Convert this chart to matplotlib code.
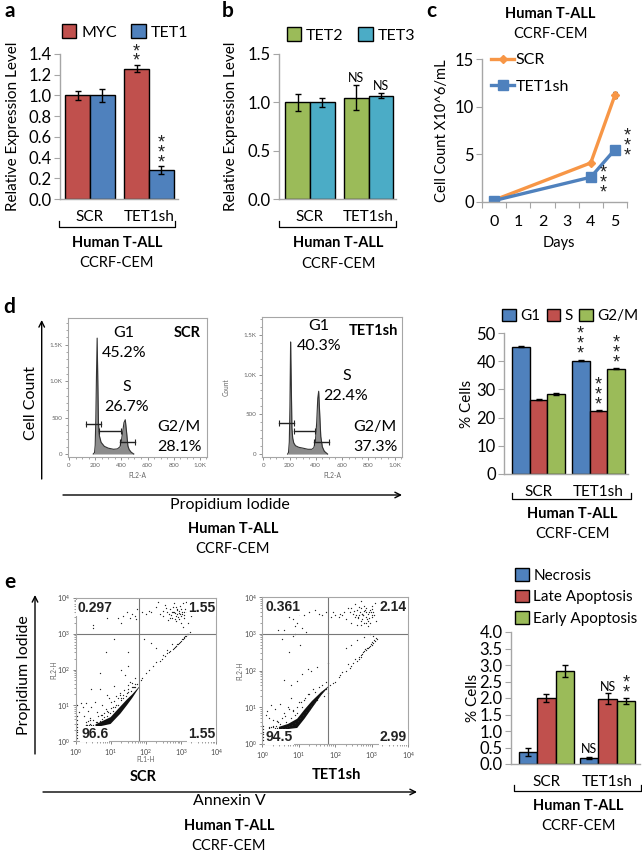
import matplotlib
matplotlib.use("Agg")
import matplotlib.pyplot as plt
import numpy as np
from matplotlib.patches import Patch
from matplotlib.lines import Line2D
from matplotlib.ticker import NullFormatter, LogLocator

plt.rcParams['font.family'] = ['Lato', 'DejaVu Sans']

RED = "#c0504d"
BLUE = "#4f81bd"
GREEN = "#9bbb59"
TEAL = "#4bacc6"
ORANGE = "#f79646"
GRAY = "#a6a6a6"
W, H = 642, 856

groups = ["SCR", "TET1sh"]

# a
myc = [1.0, 1.26]
myc_err = [0.045, 0.03]
tet1 = [1.0, 0.28]
tet1_err = [0.06, 0.035]
# b
tet2 = [1.0, 1.05]
tet2_err = [0.09, 0.13]
tet3 = [1.0, 1.07]
tet3_err = [0.05, 0.025]
# c
days = [0, 4, 5]
day_labels = ["0", "1", "2", "3", "4", "5"]
scr_count = [0.2, 4.1, 11.2]
scr_count_err = [0.05, 0.15, 0.3]
sh_count = [0.15, 2.6, 5.5]
sh_count_err = [0.05, 0.1, 0.15]
# d bars
g1 = [45.2, 40.2]
g1_err = [0.3, 0.2]
s_phase = [26.4, 22.4]
s_err = [0.3, 0.2]
g2m = [28.4, 37.4]
g2m_err = [0.3, 0.15]
# e bars
necrosis = [0.37, 0.18]
necrosis_err = [0.13, 0.04]
late = [2.0, 1.98]
late_err = [0.12, 0.17]
early = [2.83, 1.9]
early_err = [0.18, 0.09]

# cell cycle histograms
hist_scr_x = [185, 195, 200, 205, 210, 215, 220, 225, 232, 245, 270, 300, 340, 370, 390, 400, 410, 420, 430, 440, 450, 460, 475, 495]
hist_scr_y = [0, 20, 120, 500, 1100, 1590, 1000, 420, 250, 160, 105, 80, 65, 70, 100, 180, 300, 430, 470, 300, 110, 60, 25, 0]
hist_sh_x = [185, 192, 198, 203, 208, 213, 218, 224, 232, 245, 270, 300, 340, 370, 385, 397, 407, 415, 422, 430, 438, 450, 465, 490]
hist_sh_y = [0, 20, 150, 600, 1410, 900, 330, 200, 140, 105, 85, 75, 60, 60, 80, 160, 400, 700, 790, 500, 220, 90, 35, 0]

# annexin scatter, log10 of the channel values
band_scr_x = [0.55, 0.7, 0.98, 1.26, 1.45, 1.6, 1.8]
band_scr_lo = [0.43, 0.43, 0.49, 0.78, 1.02, 1.22, 1.52]
band_scr_hi = [0.48, 0.55, 0.68, 0.98, 1.18, 1.32, 1.54]
band_sh_x = [0.45, 0.7, 0.95, 1.15, 1.35, 1.6, 1.8]
band_sh_lo = [0.42, 0.42, 0.45, 0.7, 0.98, 1.33, 1.56]
band_sh_hi = [0.48, 0.56, 0.7, 0.95, 1.18, 1.42, 1.58]

pts_scr_x = [1.35, 1.45, 1.2, 1.55, 1.6, 1.7, 1.75, 1.72, 1.3, 0.5, 0.5, 0.9, 1.9, 2.0, 2.1, 2.15, 2.3, 2.4, 2.5, 2.5, 2.55, 2.6, 2.65, 2.7, 2.75, 2.8, 2.85, 2.85, 2.9, 2.95, 3.0, 3.0, 3.05, 3.1, 3.1, 2.95, 3.2, 3.05, 3.3, 3.2, 3.15, 2.8, 2.35,
             3.2, 3.25, 3.15, 3.1, 3.05, 3.0, 2.95, 2.9, 2.85, 2.8, 2.7, 2.6, 2.5, 2.4, 2.3, 2.2, 2.1, 2.0, 1.9, 1.85,
             1.95, 2.15, 2.3, 2.6, 2.75, 1.5, 1.1, 0.85, 1.5, 1.3, 1.4, 0.7, 0.45, 0.7, 1.1, 0.9, 1.25, 1.55, 1.65, 0.3, 0.2, 0.15, 0.35, 0.45, 0.55, 0.6, 0.75, 0.85, 0.1, 0.25, 0.4, 1.0, 1.2, 1.35, 1.5, 1.7, 0.95, 0.05, 0.05, 0.05,
             0.03, 0.03, 0.03, 0.03, 0.03, 0.03, 0.3, 0.4, 0.5, 0.75, 0.9, 1.05, 1.15, 1.3, 1.45, 1.6, 0.8, 1.0, 0.65, 0.28, 0.35, 0.42,
             2.72, 2.78, 2.83, 2.88, 2.92, 2.97, 3.02, 2.76, 2.82, 2.9, 2.98, 3.04, 2.68, 2.74, 2.86, 2.94, 3.08, 3.12, 2.62, 3.0, 3.16, 2.58,
             3.18, 3.12, 3.08, 3.02, 2.98, 2.92, 2.87, 2.83, 2.76, 2.66, 2.55, 2.45,
             1.75, 1.68, 1.62, 1.58, 1.5, 1.42, 1.36, 1.28, 1.2, 1.12, 1.05, 0.98, 0.9, 0.82, 0.76, 0.68, 0.62, 0.58, 1.7, 1.6, 1.48, 1.38, 1.25, 1.15, 1.08, 0.5, 0.45, 0.38, 0.32, 0.3, 0.92, 0.72]
pts_scr_y = [3.5, 3.6, 3.45, 3.45, 3.55, 3.5, 3.7, 3.4, 3.3, 3.25, 3.15, 3.45, 3.6, 3.55, 3.65, 3.6, 3.75, 3.55, 3.5, 3.65, 3.8, 3.6, 3.55, 3.7, 3.45, 3.6, 3.5, 3.75, 3.55, 3.65, 3.7, 3.5, 3.85, 3.6, 3.45, 3.4, 3.3, 3.2, 3.5, 3.75, 3.9, 3.85, 3.9,
             3.0, 3.05, 2.95, 2.9, 2.85, 2.8, 2.75, 2.7, 2.65, 2.6, 2.52, 2.45, 2.4, 2.25, 2.2, 2.1, 2.0, 1.9, 1.75, 1.7,
             2.85, 2.75, 2.6, 2.55, 2.7, 2.5, 2.85, 2.5, 2.1, 2.0, 1.85, 1.9, 1.45, 1.45, 1.55, 1.3, 1.35, 1.65, 1.5, 1.05, 0.95, 1.05, 0.85, 0.95, 1.1, 0.8, 1.0, 0.9, 0.8, 0.7, 0.65, 1.1, 1.2, 1.3, 1.45, 1.6, 1.2, 1.0, 0.7, 0.6,
             0.08, 0.16, 0.24, 0.32, 0.4, 0.48, 0.45, 0.47, 0.6, 0.72, 0.85, 0.95, 1.02, 1.2, 1.35, 1.5, 0.78, 0.92, 0.7, 0.44, 0.55, 0.6,
             3.52, 3.62, 3.58, 3.66, 3.48, 3.56, 3.62, 3.74, 3.42, 3.68, 3.78, 3.54, 3.44, 3.62, 3.36, 3.58, 3.52, 3.7, 3.38, 3.3, 3.62, 3.72,
             2.98, 2.93, 2.88, 2.84, 2.78, 2.72, 2.67, 2.63, 2.57, 2.48, 2.38, 2.3,
             1.6, 1.5, 1.5, 1.4, 1.38, 1.25, 1.2, 1.14, 1.02, 0.95, 0.85, 0.78, 0.7, 0.66, 0.62, 0.56, 0.53, 0.52, 1.75, 1.62, 1.58, 1.42, 1.3, 1.25, 1.12, 0.44, 0.44, 0.44, 0.44, 0.52, 0.82, 0.72]

pts_sh_x = [1.0, 1.15, 0.95, 1.3, 1.45, 1.55, 0.75, 0.85, 0.9, 1.1, 0.55, 0.6, 0.85, 0.9, 1.2, 1.65, 1.75, 1.9, 1.95, 2.0, 2.1, 2.15, 2.2, 2.3, 2.4, 2.45, 2.5, 2.55, 2.6, 2.6, 2.65, 2.7, 2.75, 2.75, 2.8, 2.8, 2.85, 2.85, 2.9, 2.9, 2.95, 3.0, 3.0, 3.05, 3.1, 2.7, 2.55, 2.45,
            3.15, 3.1, 3.05, 3.0, 2.95, 2.9, 2.85, 2.8, 2.75, 2.7, 2.65, 2.6, 2.5, 2.45, 2.4, 2.3, 2.2, 2.15, 2.1, 2.0, 1.95, 1.85,
            2.95, 3.05, 2.8, 2.6, 2.45, 2.3, 1.8, 1.5, 1.35, 1.25, 1.1, 0.95, 0.8, 1.8, 1.7, 1.05, 0.75, 0.45, 0.6, 0.8, 0.25, 0.15, 0.35, 0.5, 0.6, 0.7, 0.85, 0.1, 0.2, 0.3, 0.4, 1.0, 1.15, 1.25, 1.4, 1.55, 0.45, 1.75,
            0.03, 0.03, 0.03, 0.03, 0.03, 0.03, 0.2, 0.3, 0.38, 0.5, 0.65, 0.8, 0.95, 1.1, 0.55, 0.75, 0.62, 0.9, 0.4,
            2.62, 2.68, 2.72, 2.78, 2.82, 2.88, 2.92, 2.96, 3.02, 2.66, 2.74, 2.8, 2.86, 2.94, 3.0, 2.7, 2.76, 2.84, 2.9, 2.98, 2.58, 2.64, 3.06, 3.12, 2.52, 2.35, 2.25,
            3.12, 3.08, 3.02, 2.98, 2.92, 2.87, 2.82, 2.77, 2.72, 2.67, 2.55, 2.35,
            1.75, 1.68, 1.62, 1.55, 1.5, 1.42, 1.35, 1.28, 1.2, 1.12, 1.05, 0.98, 0.9, 0.82, 0.75, 0.68, 0.62, 0.55, 1.65, 1.45, 1.3, 1.18, 1.08, 0.96, 0.86, 0.4, 0.35, 0.3, 0.25, 0.2]
pts_sh_y = [3.55, 3.5, 3.3, 3.6, 3.65, 3.55, 3.45, 3.4, 3.2, 3.15, 2.85, 3.1, 2.95, 3.0, 3.05, 3.5, 3.6, 3.45, 3.6, 3.5, 3.45, 3.55, 3.5, 3.4, 3.6, 3.3, 3.55, 3.45, 3.65, 3.25, 3.5, 3.7, 3.4, 3.55, 3.3, 3.75, 3.6, 3.45, 3.55, 3.2, 3.65, 3.75, 3.45, 3.6, 3.85, 3.9, 3.8, 3.7,
            2.85, 2.8, 2.75, 2.7, 2.68, 2.62, 2.55, 2.52, 2.45, 2.38, 2.32, 2.25, 2.2, 2.12, 2.08, 2.0, 1.95, 1.88, 1.82, 1.7, 1.65, 1.6,
            3.0, 2.95, 2.9, 2.82, 2.7, 2.6, 2.2, 2.1, 2.0, 2.05, 1.9, 1.72, 1.6, 1.4, 1.3, 2.7, 2.5, 3.1, 1.75, 1.25, 1.05, 0.9, 0.95, 1.1, 0.85, 1.0, 0.9, 0.8, 0.72, 0.65, 0.62, 1.15, 1.2, 1.35, 1.5, 1.55, 0.6, 1.7,
            0.1, 0.18, 0.26, 0.34, 0.42, 0.5, 0.46, 0.5, 0.48, 0.55, 0.6, 0.72, 0.85, 1.0, 0.7, 0.95, 0.75, 0.8, 0.62,
            3.45, 3.6, 3.35, 3.5, 3.65, 3.4, 3.58, 3.3, 3.5, 3.72, 3.55, 3.62, 3.28, 3.42, 3.68, 3.25, 3.5, 3.7, 3.35, 3.6, 3.5, 3.42, 3.5, 3.35, 3.62, 3.7, 3.6,
            2.88, 2.82, 2.78, 2.72, 2.65, 2.6, 2.58, 2.5, 2.42, 2.36, 2.3, 2.18,
            1.5, 1.45, 1.42, 1.3, 1.2, 1.12, 1.04, 0.92, 0.86, 0.78, 0.72, 0.63, 0.56, 0.52, 0.5, 0.46, 0.44, 0.44, 1.6, 1.42, 1.35, 1.25, 1.15, 1.02, 0.92, 0.44, 0.44, 0.46, 0.46, 0.44]

fig = plt.figure(figsize=(W / 100, H / 100), dpi=100)

# overlay in pixel coordinates for the captions, brackets and arrows
over = fig.add_axes([0, 0, 1, 1], zorder=5)
over.set_xlim(0, W)
over.set_ylim(H, 0)
over.axis("off")


def box(x0, y0, x1, y1):
    return fig.add_axes([x0 / W, 1 - y1 / H, (x1 - x0) / W, (y1 - y0) / H])


def label(x, y, s, size=11, weight="normal", **kw):
    over.text(x, y, s, fontsize=size, fontweight=weight, ha=kw.pop("ha", "center"), va="center", **kw)


def caption(x, y0, y1):
    label(x, y0, "Human T-ALL", 10.5, "bold")
    label(x, y1, "CCRF-CEM", 10.5)


def bracket(x0, x1, y):
    over.plot([x0, x0, x1, x1], [y - 6, y, y, y - 6], color="black", lw=0.9)


def arrow(x0, y0, x1, y1):
    over.annotate("", xy=(x1, y1), xytext=(x0, y0),
                  arrowprops=dict(arrowstyle="->", color="black", lw=1.0, shrinkA=0, shrinkB=0))


def stars(ax, x, y, n):
    ax.annotate("\n".join(["*"] * n), (x, y), xytext=(0, -2.5), textcoords="offset points",
                ha="center", va="bottom", fontsize=13, family=["Liberation Sans"], linespacing=0.45,
                color="#222222", annotation_clip=False)


def style(ax):
    for side in ["top", "right"]:
        ax.spines[side].set_visible(False)
    for side in ["left", "bottom"]:
        ax.spines[side].set_color(GRAY)
        ax.spines[side].set_linewidth(1.0)
    ax.tick_params(axis="y", color=GRAY, length=4, labelsize=12, pad=2)
    ax.set_facecolor("none")


def bars(ax, series, errs, colors, width):
    n = len(series)
    for i, (vals, err, col) in enumerate(zip(series, errs, colors)):
        xs = np.arange(2) + (i - (n - 1) / 2) * width
        ax.bar(xs, vals, width, color=col, edgecolor="black", linewidth=1.0, yerr=err,
               error_kw=dict(ecolor="black", elinewidth=1.0, capsize=2.2, capthick=1.0))
    ax.set_xticks([0, 1], groups)
    ax.tick_params(axis="x", length=0, labelsize=11, pad=8)
    style(ax)


def legend(ax, names, colors, x, y, ncol, size=11.5, **kw):
    handles = [Patch(facecolor=c, edgecolor="black", linewidth=1.0) for c in colors]
    ax.legend(handles, names, ncol=ncol, loc="center left", bbox_to_anchor=(x / W, 1 - y / H),
              bbox_transform=fig.transFigure, frameon=False, fontsize=size, borderpad=0, borderaxespad=0,
              handlelength=0.9, handleheight=0.9, handletextpad=0.3, **kw)


# panel letters
for s, x, y in [("a", 10, 11), ("b", 228, 11), ("c", 431, 11), ("d", 9, 307), ("e", 10, 582)]:
    label(x, y, s, 15, "bold")

# a
ax = box(60, 54, 178, 199)
bars(ax, [myc, tet1], [myc_err, tet1_err], [RED, BLUE], 0.42)
ax.set_xlim(-0.508, 1.49)
ax.set_ylim(0, 1.4)
ax.set_yticks(np.arange(0, 1.5, 0.2))
ax.set_ylabel("Relative Expression Level", fontsize=11, labelpad=6)
stars(ax, 0.79, 1.28, 2)
stars(ax, 1.21, 0.3, 3)
legend(ax, ["MYC", "TET1"], [RED, BLUE], 62, 32, 2, columnspacing=0.9)
bracket(59, 175, 227)
caption(117, 243, 263)

# b
ax = box(279, 54, 396, 199)
bars(ax, [tet2, tet3], [tet2_err, tet3_err], [GREEN, TEAL], 0.425)
ax.set_xlim(-0.53, 1.47)
ax.set_ylim(0, 1.5)
ax.set_yticks([0, 0.5, 1.0, 1.5])
ax.set_ylabel("Relative Expression Level", fontsize=11, labelpad=7)
ax.text(0.79, 1.19, "NS", ha="center", va="bottom", fontsize=9)
ax.text(1.21, 1.11, "NS", ha="center", va="bottom", fontsize=9)
legend(ax, ["TET2", "TET3"], [GREEN, TEAL], 287, 35, 2, columnspacing=0.9)
bracket(279, 396, 227)
caption(338, 243, 264)

# c
ax = box(482, 59, 627, 202)
ax.errorbar(days, scr_count, yerr=scr_count_err, color=ORANGE, lw=2.4, marker="D", ms=4.5, ecolor="black",
            elinewidth=0.8, capsize=1.5)
ax.errorbar(days, sh_count, yerr=sh_count_err, color=BLUE, lw=2.4, marker="s", ms=7, ecolor="black",
            elinewidth=0.8, capsize=1.5)
ax.set_xlim(-0.5, 5.5)
ax.set_ylim(0, 15)
ax.set_yticks([0, 5, 10, 15])
style(ax)
ax.set_xticks(np.arange(-0.5, 6), [""] * 7)
ax.set_xticks(range(6), day_labels, minor=True)
ax.tick_params(axis="x", which="major", color=GRAY, length=4)
ax.tick_params(axis="x", which="minor", length=0, labelsize=11.5, pad=9)
ax.set_ylabel("Cell Count X10^6/mL", fontsize=10.6, labelpad=4)
stars(ax, 4.5, 0.4, 3)
stars(ax, 5.5, 4.3, 3)
ax.legend([Line2D([], [], color=ORANGE, lw=2.4, marker="D", ms=4.5), Line2D([], [], color=BLUE, lw=2.4, marker="s", ms=7)],
          ["SCR", "TET1sh"], loc="center left", bbox_to_anchor=(491 / W, 1 - 73.5 / H), bbox_transform=fig.transFigure,
          frameon=False, fontsize=11.5, borderpad=0, borderaxespad=0, handlelength=1.45, handletextpad=0.1, labelspacing=0.8)
label(550, 14, "Human T-ALL", 10.5, "bold")
label(550, 34, "CCRF-CEM", 10.5)
label(559, 243, "Days", 10.5)


# d histograms
def histogram(rect, xs, ys, xlim, ylim, gates, ylab=None):
    ax = box(*rect)
    ax.fill_between(xs, ys, color="#8c8c8c", lw=0)
    ax.plot(xs, ys, color="#333333", lw=0.8)
    for x0, x1, y in gates:
        ax.plot([x0, x1], [y, y], color="#222222", lw=1.0, marker="|", ms=4, mew=0.8)
    ax.set_xlim(*xlim)
    ax.set_ylim(*ylim)
    ax.set_xticks(range(0, 1001, 200), ["0", "200", "400", "600", "800", "1.0K"])
    ax.set_yticks([0, 500, 1000, 1500], ["0", "500", "1.0K", "1.5K"])
    ax.minorticks_on()
    ax.tick_params(which="both", labelsize=4.5, color="#666666", labelcolor="#666666", width=0.5, pad=1.5, length=2.5)
    ax.tick_params(which="minor", length=1.2, width=0.4)
    ax.set_xlabel("FL2-A", fontsize=4.8, color="#666666", labelpad=3)
    for sp in ax.spines.values():
        sp.set_color(GRAY)
        sp.set_linewidth(0.8)
    return ax


histogram((68, 318, 207, 457), hist_scr_x, hist_scr_y, (-8, 1055), (-41, 1866),
          [(128, 241, 411), (231, 395, 315), (390, 505, 165)])
histogram((262, 317, 402, 457), hist_sh_x, hist_sh_y, (-10, 1057), (-37, 1724),
          [(122, 233, 386), (233, 392, 295), (390, 501, 154)])
label(226, 387, "Count", 4.8, rotation=90, color="#666666")

for x, y, s in [(124, 333, "G1"), (124, 353, "45.2%"), (127, 387, "S"), (127, 407, "26.7%"), (179, 427, "G2/M"), (179, 447, "28.1%"),
                (319, 326, "G1"), (319, 346, "40.3%"), (347, 376, "S"), (346, 396, "22.4%"), (375, 427, "G2/M"), (375, 447, "37.3%")]:
    label(x, y, s, 11.5)
label(187, 333, "SCR", 10.5, "bold")
label(373, 331, "TET1sh", 10.5, "bold")

arrow(41.7, 479, 41.7, 320)
arrow(63, 495, 402, 495)
label(31, 403, "Cell Count", 11.5, rotation=90)
label(230, 505, "Propidium Iodide", 11.5)
caption(233, 529, 549)

# d bars
ax = box(504, 333, 628, 474)
bars(ax, [g1, s_phase, g2m], [g1_err, s_err, g2m_err], [BLUE, RED, GREEN], 0.295)
ax.set_xlim(-0.575, 1.49)
ax.set_ylim(0, 50)
ax.set_yticks(range(0, 51, 10))
ax.set_ylabel("% Cells", fontsize=11, labelpad=2)
stars(ax, 0.69, 40.8, 3)
stars(ax, 1.0, 22.7, 3)
stars(ax, 1.30, 37.6, 3)
legend(ax, ["G1", "S", "G2/M"], [BLUE, RED, GREEN], 502, 316, 3, size=11, columnspacing=0.4)
bracket(512, 631, 499)
caption(572, 514, 534)


# e scatter
def annexin(rect, px, py, bx, lo, hi, xlab):
    ax = box(*rect)
    ax.set_xscale("log")
    ax.set_yscale("log")
    ax.fill_between(10.0 ** np.array(bx), 10.0 ** np.array(lo), 10.0 ** np.array(hi), color="#111111", lw=0)
    ax.scatter(10.0 ** np.array(px), 10.0 ** np.array(py), s=0.9, color="#222222", lw=0)
    ax.axvline(10 ** 1.81, color="#777777", lw=0.8)
    ax.axhline(1000, color="#777777", lw=0.8)
    ax.set_xlim(1, 1e4)
    ax.set_ylim(1, 1e4)
    for axis in [ax.xaxis, ax.yaxis]:
        axis.set_major_locator(LogLocator(base=10, numticks=6))
        axis.set_minor_locator(LogLocator(base=10, subs=np.arange(2, 10), numticks=6))
        axis.set_minor_formatter(NullFormatter())
    ax.tick_params(which="both", labelsize=5, color="#555555", labelcolor="#444444", width=0.5, pad=1.5, length=2.5)
    ax.tick_params(which="minor", length=1.2, width=0.4)
    if xlab:
        ax.set_xlabel("FL1-H", fontsize=4.8, color="#666666", labelpad=-1)
    ax.set_ylabel("FL2-H", fontsize=4.8, color="#666666", labelpad=0)
    for sp in ax.spines.values():
        sp.set_color(GRAY)
        sp.set_linewidth(0.8)


annexin((75.7, 598, 216, 741), pts_scr_x, pts_scr_y, band_scr_x, band_scr_lo, band_scr_hi, True)
annexin((262, 597, 408, 744), pts_sh_x, pts_sh_y, band_sh_x, band_sh_lo, band_sh_hi, False)

bg = dict(facecolor="white", edgecolor="none", pad=0.8)
arial = ["Liberation Sans", "DejaVu Sans"]
for x, y, s, ha in [(77, 608, "0.297", "left"), (215, 608, "1.55", "right"), (81, 734, "96.6", "left"), (215, 734, "1.55", "right"),
                    (265, 607, "0.361", "left"), (407, 607, "2.14", "right"), (266, 737, "94.5", "left"), (407, 737, "2.99", "right")]:
    over.text(x, y, s, fontsize=10, fontweight="bold", family=arial, color="#222222", ha=ha, va="center", bbox=bg)

label(143, 777, "SCR", 10.5, "bold")
label(336, 775, "TET1sh", 10.5, "bold")
arrow(35, 754, 35, 595)
arrow(43, 792, 417, 792)
label(24, 675, "Propidium Iodide", 11.5, rotation=90)
label(229, 801, "Annexin V", 11.5)
caption(229, 826, 846)

# e bars
ax = box(511, 632, 640, 764)
bars(ax, [necrosis, late, early], [necrosis_err, late_err, early_err], [BLUE, RED, GREEN], 0.30)
ax.set_xlim(-0.58, 1.53)
ax.set_ylim(0, 4)
ax.set_yticks(np.arange(0, 4.1, 0.5))
ax.set_ylabel("% Cells", fontsize=11, labelpad=0)
ax.text(0.7, 0.27, "NS", ha="center", va="bottom", fontsize=9)
ax.text(1.0, 2.16, "NS", ha="center", va="bottom", fontsize=9)
stars(ax, 1.3, 2.0, 2)
legend(ax, ["Necrosis", "Late Apoptosis", "Early Apoptosis"], [BLUE, RED, GREEN], 515, 597, 1, size=11, labelspacing=0.45)
bracket(514, 641, 791)
caption(578, 806, 826)

fig.savefig("out.png", dpi=100)
